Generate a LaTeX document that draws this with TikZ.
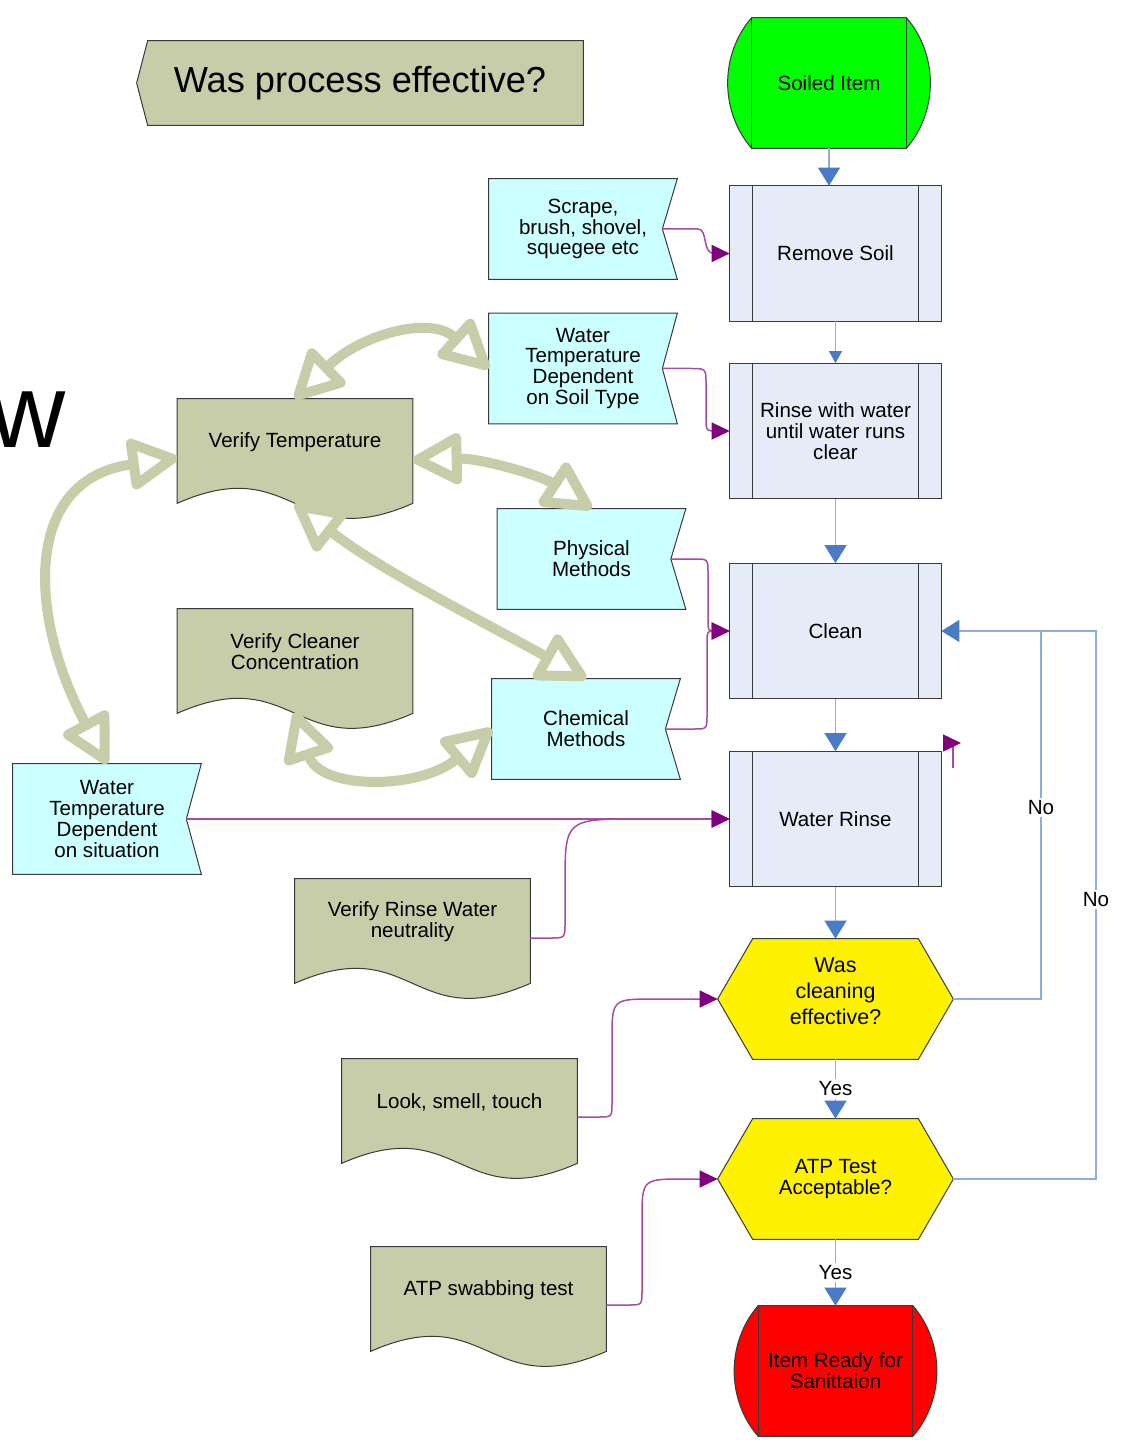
\documentclass[tikz,border=0pt]{standalone}
\usepackage{fontspec}
\setmainfont{Liberation Sans}
\usepackage{xcolor}
\usetikzlibrary{arrows.meta,backgrounds}

\definecolor{olivefill}{HTML}{C6CDA8}
\definecolor{tagfill}{HTML}{CCFFFF}
\definecolor{procfill}{HTML}{E6ECF7}
\definecolor{flowline}{HTML}{8DAEDD}
\definecolor{flowhead}{HTML}{4A7BC6}
\definecolor{linkline}{HTML}{A44CA4}
\definecolor{linkhead}{HTML}{800080}
\definecolor{edgecol}{HTML}{3A3A3A}

\newcommand{\boxfont}{\fontsize{11.7pt}{11.9pt}\selectfont}

% outlines drawn round the plain nodes
\newcommand{\procshape}[1]{%
  \draw[edge, fill=procfill] (#1.south west) rectangle (#1.north east);
  \draw[edge] ([xshift=4.6mm]#1.north west) -- ([xshift=4.6mm]#1.south west)
    ([xshift=-4.6mm]#1.north east) -- ([xshift=-4.6mm]#1.south east);}
\newcommand{\tagshape}[1]{%
  \draw[edge, fill=tagfill] (#1.north west) -- (#1.north east) -- ([xshift=-3mm]#1.east)
    -- (#1.south east) -- (#1.south west) -- cycle;}
\newcommand{\docshape}[1]{%
  \draw[edge, fill=olivefill] (#1.north west) -- (#1.north east) -- ([yshift=-3.6mm]#1.south east)
    .. controls ([yshift=-14mm]#1.south) and ([yshift=6.8mm]#1.south) .. ([yshift=-3.6mm]#1.south west) -- cycle;}
\newcommand{\hexshape}[1]{%
  \draw[edge, fill=yellow] (#1.west) -- ([xshift=7mm]#1.north west) -- ([xshift=-7mm]#1.north east)
    -- (#1.east) -- ([xshift=-7mm]#1.south east) -- ([xshift=7mm]#1.south west) -- cycle;}
\newcommand{\termshape}[2]{%
  \draw[edge, fill=#2] ([xshift=4.8mm]#1.north west)
    .. controls ([xshift=-1.6mm,yshift=-7.4mm]#1.north west) and ([xshift=-1.6mm,yshift=7.4mm]#1.south west) .. ([xshift=4.8mm]#1.south west)
    -- ([xshift=-4.8mm]#1.south east)
    .. controls ([xshift=1.6mm,yshift=7.4mm]#1.south east) and ([xshift=1.6mm,yshift=-7.4mm]#1.north east) .. ([xshift=-4.8mm]#1.north east) -- cycle;
  \draw[edge] ([xshift=4.8mm]#1.north west) -- ([xshift=4.8mm]#1.south west)
    ([xshift=-4.8mm]#1.north east) -- ([xshift=-4.8mm]#1.south east);}

\begin{document}
\begin{tikzpicture}[
    x=0.2mm, y=-0.2mm,
    box/.style={inner sep=0, align=center, font=\boxfont},
    proc/.style={box, minimum width=42.2mm, minimum height=27mm},
    tag/.style={box, minimum width=37.6mm, minimum height=20mm},
    tall/.style={minimum height=22mm},
    doc/.style={box, minimum width=47mm, minimum height=17.2mm},
    hex/.style={box, minimum width=47mm, minimum height=24mm},
    term/.style={box, minimum width=40.4mm, minimum height=26mm},
    edge/.style={draw=edgecol, line width=0.2mm},
    flow/.style={draw=flowline, line width=0.25mm, -{Triangle[length=3.6mm,width=4.4mm,color=flowhead]}},
    flowsmall/.style={flow, -{Triangle[length=2.4mm,width=2.6mm,color=flowhead]}},
    link/.style={draw=linkline, line width=0.3mm, -{Triangle[length=3.6mm,width=3.4mm,color=linkhead]}},
    fat/.style={draw=olivefill, line width=2mm, {Triangle[open,round,length=11mm,width=11mm]}-{Triangle[open,round,length=11mm,width=11mm]}},
    cond/.style={fill=white, inner sep=1.5pt, font=\boxfont}
]
    \useasboundingbox (0,0) rectangle (1121,1440);

    \node[inner sep=0, minimum width=89.2mm, minimum height=16.8mm, font=\fontsize{20.6pt}{24pt}\selectfont] (title) at (360,83) {Was process effective?};
    \node[inner sep=0, anchor=base east, font=\fontsize{60pt}{60pt}\selectfont] (flowword) at (66,447) {w};

    % main flow
    \node[term] (soiled) at (829,83) {Soiled Item};
    \node[proc] (remove) at (835.5,253.5) {Remove Soil};
    \node[proc] (rinse) at (835.5,431) {Rinse with water\\until water runs\\clear};
    \node[proc] (clean) at (835.5,631) {Clean};
    \node[proc] (wrinse) at (835.5,819) {Water Rinse};
    \node[hex, font=\fontsize{12.2pt}{14.7pt}\selectfont] (wascl) at (835.5,999)
        {\raisebox{1.2mm}[\height][\depth]{\begin{tabular}{@{}c@{}}Was\\cleaning\\effective?\end{tabular}}};
    \node[hex] (atptest) at (835.5,1179) {ATP Test\\Acceptable?};
    \node[term] (ready) at (835.5,1371) {Item Ready for\\Sanittaion};

    % inputs
    \node[tag] (scrape) at (583,229) {Scrape,\\brush, shovel,\\squegee etc};
    \node[tag, tall] (wsoil) at (583,368.5) {Water\\Temperature\\Dependent\\on Soil Type};
    \node[tag] (phys) at (591.5,559) {Physical\\Methods};
    \node[tag] (chem) at (586,729) {Chemical\\Methods};
    \node[tag, tall] (wsit) at (107,819) {Water\\Temperature\\Dependent\\on situation};

    % checks
    \node[doc] (vtemp) at (295,442) {Verify Temperature};
    \node[doc] (vconc) at (295,652) {Verify Cleaner\\Concentration};
    \node[doc] (vrinse) at (412.5,922) {Verify Rinse Water\\neutrality};
    \node[doc] (look) at (459.5,1102) {Look, smell, touch};
    \node[doc] (swab) at (488.5,1290) {ATP swabbing test};

    \begin{scope}[on background layer]
        \draw[edge, fill=olivefill] (title.west) -- ([xshift=2.2mm]title.north west) -- (title.north east)
            -- (title.south east) -- ([xshift=2.2mm]title.south west) -- cycle;
        \termshape{soiled}{green}
        \termshape{ready}{red}
        \foreach \n in {remove,rinse,clean,wrinse} {\procshape{\n}}
        \foreach \n in {wascl,atptest} {\hexshape{\n}}
        \foreach \n in {scrape,wsoil,phys,chem,wsit} {\tagshape{\n}}
        \foreach \n in {vtemp,vconc,vrinse,look,swab} {\docshape{\n}}
    \end{scope}

    \draw[flow] (soiled.south) -- (soiled.south |- remove.north);
    \draw[flowsmall] (remove) -- (rinse);
    \draw[flow] (rinse) -- (clean);
    \draw[flow] (clean) -- (wrinse);
    \draw[flow] (wrinse) -- (wascl);
    \draw[flow] (wascl) -- node[cond] {Yes} (atptest);
    \draw[flow] (atptest) -- node[cond] {Yes} (ready);

    \coordinate (noA) at (1041,631);
    \coordinate (noB) at (1096,631);
    \draw[draw=flowline, line width=0.25mm] (wascl.east) -| node[cond, pos=0.76] {No} (noA);
    \draw[flow] (atptest.east) -| node[cond, pos=0.755] {No} (noB) -- (clean.east);

    \draw[link] ([xshift=-3mm]scrape.east) -- (698,229) .. controls (708,229) and (702,253.5) .. (714,253.5) -- (remove.west);
    \draw[link] ([xshift=-3mm]wsoil.east) -- (690,368.5) .. controls (706,368.5) .. (706,384) -- (706,418) .. controls (706,431) .. (718,431) -- (rinse.west);
    \draw[link] ([xshift=-3mm]phys.east) -- (694,559) .. controls (708,559) .. (708,573) -- (708,620) .. controls (708,631) .. (716,631) -- (clean.west);
    \draw[link] ([xshift=-3mm]chem.east) -- (694,729) .. controls (707,729) .. (707,715) -- (707,642) .. controls (707,631) .. (716,631) -- (clean.west);
    \draw[link] ([xshift=-3mm]wsit.east) -- (wrinse.west);
    \draw[link] ([yshift=-3.2mm]vrinse.east) -- (550,938) .. controls (565,938) .. (565,923) -- (565,885) .. controls (565,819) .. (640,819) -- (wrinse.west);
    \draw[link] ([yshift=-3mm]look.east) -- (598,1117) .. controls (612,1117) .. (612,1103) -- (612,1040) .. controls (612,999) .. (655,999) -- (wascl.west);
    \draw[link] ([yshift=-3mm]swab.east) -- (628,1305) .. controls (642,1305) .. (642,1291) -- (642,1220) .. controls (642,1179) .. (685,1179) -- (atptest.west);

    \coordinate (stub) at (953,768);
    \coordinate (stubend) at (961,743);
    \draw[link] (stub) |- (stubend);

    % temperature / concentration checks
    \draw[fat] (vtemp.north) .. controls (360,335) and (430,315) .. (wsoil.west);
    \draw[fat] ([yshift=-3.6mm]vtemp.east) .. controls (480,458) and (540,475) .. (phys.north);
    \draw[fat] ([yshift=-3.6mm]vtemp.south) .. controls (380,570) and (480,620) .. (chem.north);
    \draw[fat] ([yshift=-3.4mm]vconc.south) .. controls (320,790) and (420,790) .. (chem.west);
    \draw[fat] ([yshift=-3.2mm]vtemp.west) .. controls (20,480) and (30,620) .. (wsit.north);
\end{tikzpicture}
\end{document}
